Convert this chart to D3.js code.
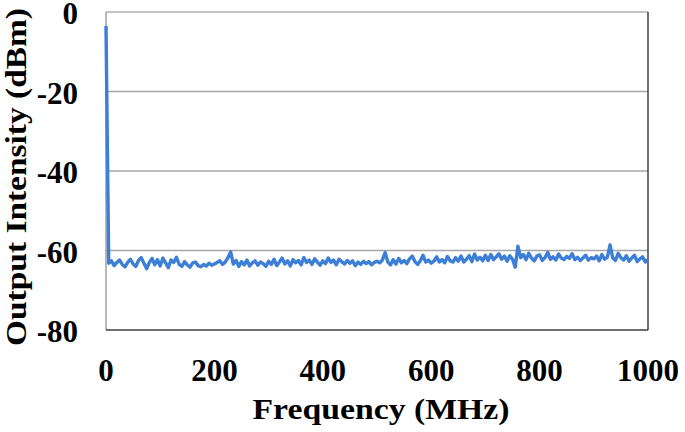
<!DOCTYPE html>
<html>
<head>
<meta charset="utf-8">
<script src="https://cdn.jsdelivr.net/npm/d3@7"></script>
</head>
<body style="margin:0">
<svg id="chart" width="685" height="432"></svg>
<script>
// Frequency grid in MHz (5 MHz step, 0..1000)
const frequencies = d3.range(0, 1001, 5);

// Output intensity in dBm
const intensity = [
  -3.5, -63.2, -62.6, -63.8, -63.0, -62.4, -63.5, -64.1, -63.0, -62.2,
  -63.4, -64.0, -62.5, -61.8, -63.2, -64.6, -63.0, -62.0, -63.6, -62.3,
  -63.9, -61.9, -63.1, -64.3, -62.4, -63.0, -61.7, -63.5, -64.0, -62.8,
  -63.6, -64.2, -63.1, -62.9, -63.8, -64.1, -63.5, -63.9, -63.2, -63.7,
  -63.4, -63.0, -62.6, -63.5, -62.9, -61.8, -60.4, -63.4, -62.5, -64.0,
  -62.8, -63.6, -62.4, -63.9, -63.1, -62.6, -63.7, -62.9, -63.3, -64.0,
  -62.7, -63.5, -62.2, -63.8, -62.9, -61.9, -63.4, -62.6, -63.9, -62.3,
  -63.1, -62.5, -63.6, -61.8, -63.0, -62.4, -63.5, -62.1, -62.9, -63.7,
  -62.6, -63.3, -61.9, -63.0, -62.4, -63.6, -62.2, -62.8, -63.4, -62.5,
  -63.2, -62.6, -63.8, -62.9, -63.5, -62.7, -63.3, -62.8, -63.6, -63.0,
  -62.7, -63.1, -62.4, -60.5, -62.9, -63.6, -62.3, -63.4, -62.0, -63.1,
  -62.5, -63.3, -62.1, -61.4, -62.8, -63.5, -62.6, -61.2, -62.9, -62.4,
  -63.2, -62.7, -61.6, -62.9, -62.3, -63.1, -61.5, -62.6, -62.9, -61.8,
  -62.7, -61.4, -62.9, -62.2, -61.3, -62.8, -60.9, -62.4, -61.7, -62.6,
  -61.2, -62.5, -61.0, -62.3, -61.6, -60.8, -62.2, -61.4, -62.7, -61.3,
  -62.2, -64.2, -58.9, -61.8, -61.0, -62.3, -60.7, -61.9, -62.6, -61.4,
  -61.1, -62.5, -61.8, -60.5, -62.2, -61.6, -62.4, -60.9, -61.9, -62.3,
  -61.5, -62.0, -60.8, -62.3, -61.7, -62.5, -61.9, -61.2, -62.4, -61.8,
  -62.1, -61.4, -62.6, -61.0, -62.2, -61.7, -58.6, -61.9, -62.5, -60.7,
  -61.8, -62.4, -61.3, -62.7, -61.9, -61.2, -62.8, -62.1, -61.6, -62.9,
  -62.3
];

const xTicks = [0, 200, 400, 600, 800, 1000];
const yTicks = [0, -20, -40, -60, -80];
const gridLevels = [-20, -40, -60];

const xTitle = "Frequency (MHz)";
const yTitle = "Output Intensity (dBm)";

(function () {
const FONT = '"Liberation Serif", "Times New Roman", Times, serif';
const svg = d3.select("#chart");
const pL = 106, pR = 648, pT = 12, pB = 330;

const x = d3.scaleLinear().domain([0, 1000]).range([pL, pR]);
const y = d3.scaleLinear().domain([-80, 0]).range([pB, pT]);

svg.append("rect").attr("width", 685).attr("height", 432).attr("fill", "#fff");

// Gridlines
svg.append("g").selectAll("line").data(gridLevels).join("line")
  .attr("x1", pL).attr("x2", pR)
  .attr("y1", d => y(d)).attr("y2", d => y(d))
  .attr("stroke", "#a6a6a6").attr("stroke-width", 1.5);

// Frame
svg.append("line").attr("x1", pL).attr("x2", pR).attr("y1", pT).attr("y2", pT)
  .attr("stroke", "#b0b0b0").attr("stroke-width", 1.5);
svg.append("line").attr("x1", pL).attr("x2", pL).attr("y1", pT).attr("y2", pB)
  .attr("stroke", "#a0a0a0").attr("stroke-width", 1.5);
svg.append("line").attr("x1", pL).attr("x2", pR).attr("y1", pB).attr("y2", pB)
  .attr("stroke", "#404040").attr("stroke-width", 1.5);
svg.append("line").attr("x1", pR).attr("x2", pR).attr("y1", pT).attr("y2", pB)
  .attr("stroke", "#404040").attr("stroke-width", 1.5);

// Data line
const data = frequencies.map((f, i) => [f, intensity[i]]);
svg.append("path").datum(data)
  .attr("fill", "none")
  .attr("stroke", "#3d7fd6")
  .attr("stroke-width", 3.4)
  .attr("stroke-linejoin", "round")
  .attr("d", d3.line().x(d => x(d[0])).y(d => y(d[1])));

// Tick labels drawn from the scales
svg.append("g").selectAll("text").data(xTicks).join("text")
  .attr("x", d => x(d)).attr("y", pB + 51)
  .attr("text-anchor", "middle")
  .style("font-family", FONT)
  .style("font-weight", "bold").style("font-size", "31px")
  .text(d => String(d));

svg.append("g").selectAll("text").data(yTicks).join("text")
  .attr("x", pL - 28).attr("y", d => y(d) + 12)
  .attr("text-anchor", "end")
  .style("font-family", FONT)
  .style("font-weight", "bold").style("font-size", "31px")
  .text(d => d === 0 ? "0" : "-" + Math.abs(d));

// Titles
svg.append("text").attr("x", 381).attr("y", 419).attr("text-anchor", "middle")
  .attr("textLength", 257).attr("lengthAdjust", "spacingAndGlyphs")
  .style("font-family", FONT)
  .style("font-weight", "bold").style("font-size", "30px").text(xTitle);
svg.append("text").attr("transform", "translate(26,177) rotate(-90)")
  .attr("text-anchor", "middle")
  .attr("textLength", 338).attr("lengthAdjust", "spacingAndGlyphs")
  .style("font-family", FONT)
  .style("font-weight", "bold").style("font-size", "30px").text(yTitle);
})();
</script>
</body>
</html>
